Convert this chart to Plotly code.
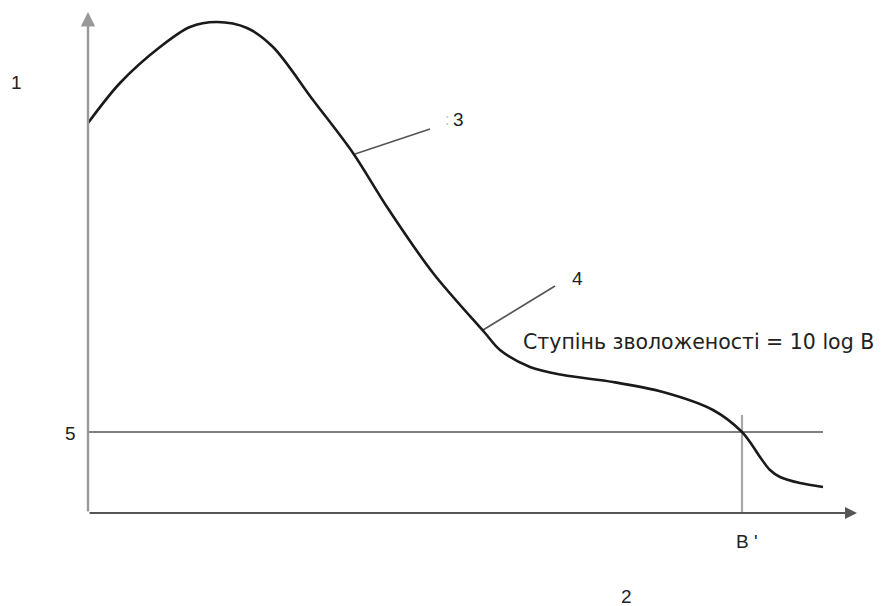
import plotly.graph_objects as go

# Curve data (arbitrary units: x = moisture quantity, y = response)
curve_x = [0, 32, 72, 102, 129, 159, 185, 225, 265, 299, 345, 397, 412, 442, 475, 525, 575, 625, 654, 664, 672, 682, 692, 712, 735]
curve_y = [390, 430, 466, 486, 491, 485, 466, 413, 360, 306, 240, 180, 163, 146, 138, 131, 121, 103, 81, 68, 56, 43, 36, 30, 26]

level_5 = 81          # threshold level (label "5")
b_prime = 654         # B' position
b_prime_top = 98
x_end = 735           # end of threshold line
x_axis_tip = 769
y_axis_tip = 501

leader3_x = [267, 342]
leader3_y = [359, 384]
leader4_x = [395, 467]
leader4_y = [183, 227]

FONT = "Liberation Sans, Arial, sans-serif"

fig = go.Figure()

fig.add_trace(go.Scatter(x=[0, x_end], y=[level_5, level_5], mode="lines",
                         line=dict(color="#555555", width=1.6), hoverinfo="skip"))
fig.add_trace(go.Scatter(x=[b_prime, b_prime], y=[0, b_prime_top], mode="lines",
                         line=dict(color="#a8a8a8", width=2.2), hoverinfo="skip"))
fig.add_trace(go.Scatter(x=leader3_x, y=leader3_y, mode="lines",
                         line=dict(color="#555555", width=1.6), hoverinfo="skip"))
fig.add_trace(go.Scatter(x=leader4_x, y=leader4_y, mode="lines",
                         line=dict(color="#555555", width=1.6), hoverinfo="skip"))
fig.add_trace(go.Scatter(x=curve_x, y=curve_y, mode="lines",
                         line=dict(color="#1a1a1a", width=2.6, shape="spline", smoothing=0.9),
                         hoverinfo="skip"))

# axes with arrows
fig.add_annotation(x=0, y=y_axis_tip, ax=0, ay=0, xref="x", yref="y", axref="x", ayref="y",
                   text="", showarrow=True, arrowhead=2, arrowsize=1.2, arrowwidth=2.4,
                   arrowcolor="#999999")
fig.add_annotation(x=x_axis_tip, y=0, ax=0, ay=0, xref="x", yref="y", axref="x", ayref="y",
                   text="", showarrow=True, arrowhead=2, arrowsize=1.2, arrowwidth=2,
                   arrowcolor="#555555")

labels = [
    ("1", -72, 431, 19, "#222222"),
    ("2", 538, -83, 19, "#222222"),
    (":", 359, 394, 16, "#c0c0c0"),
    ("3", 370, 394, 19, "#222222"),
    ("4", 489, 235, 19, "#222222"),
    ("5", -18, 80, 19, "#222222"),
    ("В '", 659, -28, 19, "#222222"),
]
for t, x, y, s, c in labels:
    fig.add_annotation(x=x, y=y, xref="x", yref="y", text=t, showarrow=False,
                       font=dict(family=FONT, size=s, color=c))

fig.add_annotation(x=433, y=171, xref="x", yref="y", xanchor="left",
                   text="Ступінь зволоженості = 10 log В", showarrow=False,
                   font=dict(family="DejaVu Sans, sans-serif", size=20.5, color="#222222"))

fig.update_layout(
    width=888, height=606, autosize=False,
    margin=dict(l=0, r=0, t=0, b=0),
    paper_bgcolor="white", plot_bgcolor="white",
    showlegend=False,
    xaxis=dict(range=[-80, 808], visible=False, fixedrange=True),
    yaxis=dict(range=[-101, 505], visible=False, fixedrange=True),
)

fig.write_html("out.html")
